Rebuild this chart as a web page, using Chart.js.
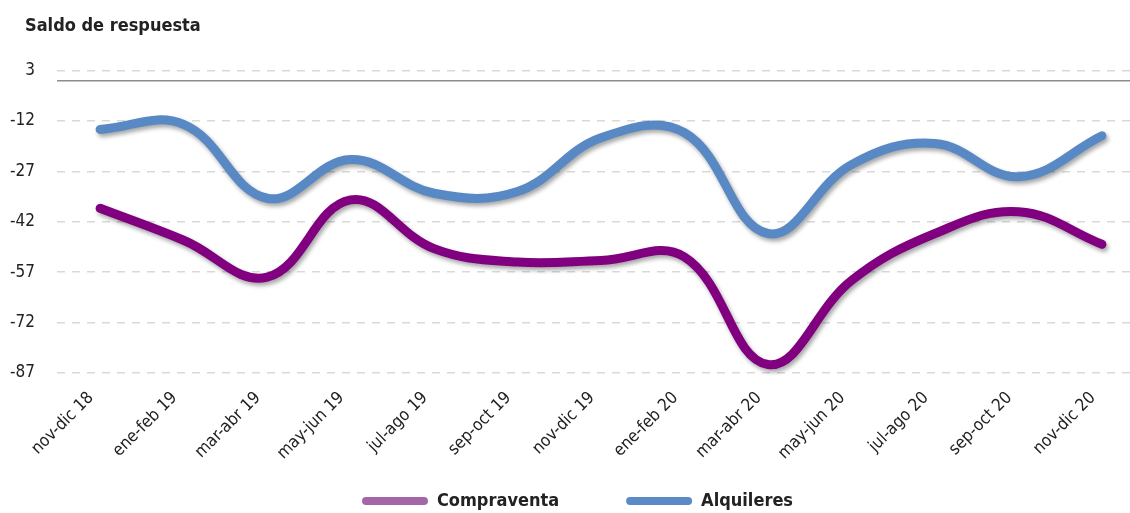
<!DOCTYPE html>
<html>
<head>
<meta charset="utf-8">
<script src="https://cdn.jsdelivr.net/npm/chart.js@4.4.1/dist/chart.umd.min.js"></script>
<style>
html,body{margin:0;padding:0;background:#fff;}
#wrap{width:1130px;height:513px;}
</style>
</head>
<body>
<div id="wrap"><canvas id="c"></canvas></div>
<script>
const categories = ["nov-dic 18","ene-feb 19","mar-abr 19","may-jun 19","jul-ago 19","sep-oct 19","nov-dic 19","ene-feb 20","mar-abr 20","may-jun 20","jul-ago 20","sep-oct 20","nov-dic 20"];
const compraventa = [-38, -47.5, -58.5, -35.5, -50, -54, -53.5, -52.5, -84.5, -59.5, -45.5, -39, -48.7];
const alquileres = [-14.5, -13, -35, -23.5, -33.5, -33, -17, -15.5, -45.5, -25, -18.7, -28.6, -16.4];
const yTicks = [3, -12, -27, -42, -57, -72, -87];
const seriesNames = ["Compraventa", "Alquileres"];

const FONT = "'Liberation Sans Narrow','DejaVu Sans Condensed','Roboto Condensed','Arial Narrow',sans-serif";

const toXY = arr => arr.map((v, i) => ({x: i, y: v}));

const shadowPlugin = {
  id: 'shadow',
  beforeDatasetDraw(chart) {
    const ctx = chart.ctx;
    ctx.save();
    ctx.shadowColor = 'rgba(0,0,0,0.35)';
    ctx.shadowBlur = 4;
    ctx.shadowOffsetX = 2;
    ctx.shadowOffsetY = 3;
  },
  afterDatasetDraw(chart) {
    chart.ctx.restore();
  }
};

const zeroLine = {
  id: 'zeroLine',
  beforeDatasetsDraw(chart) {
    const y = chart.scales.y.getPixelForValue(0);
    const ctx = chart.ctx;
    ctx.save();
    ctx.strokeStyle = '#8c8c8c';
    ctx.lineWidth = 1.5;
    ctx.beginPath();
    ctx.moveTo(chart.chartArea.left, y);
    ctx.lineTo(chart.chartArea.right, y);
    ctx.stroke();
    ctx.restore();
  }
};

new Chart(document.getElementById('c'), {
  type: 'line',
  data: {
    datasets: [
      {
        label: seriesNames[0],
        data: toXY(compraventa),
        borderColor: '#800080',
        backgroundColor: '#a566a7',
        borderWidth: 9,
        borderCapStyle: 'round',
        borderJoinStyle: 'round',
        pointRadius: 0,
        tension: 0.4,
        fill: false
      },
      {
        label: seriesNames[1],
        data: toXY(alquileres),
        borderColor: '#5889c4',
        backgroundColor: '#5b8ac6',
        borderWidth: 9,
        borderCapStyle: 'round',
        borderJoinStyle: 'round',
        pointRadius: 0,
        tension: 0.4,
        fill: false
      }
    ]
  },
  options: {
    responsive: true,
    maintainAspectRatio: false,
    animation: false,
    layout: {padding: {left: 25, right: 0, top: 4, bottom: -7}},
    scales: {
      x: {
        type: 'linear',
        min: -0.516,
        max: 12.336,
        afterBuildTicks: s => { s.ticks = categories.map((c, i) => ({value: i})); },
        afterFit: s => {
          s.height = 42; s.paddingLeft = 0; s.paddingRight = 0;
          s._computeLabelArea = () => null;
        },
        grid: {display: false, drawTicks: false},
        border: {display: false},
        ticks: {
          autoSkip: false,
          minRotation: 45,
          maxRotation: 45,
          padding: 5,
          labelOffset: -9,
          color: '#222',
          font: {family: FONT, size: 17},
          callback: v => categories[v]
        }
      },
      y: {
        min: -90,
        max: 3,
        afterBuildTicks: s => { s.ticks = yTicks.map(v => ({value: v})); },
        afterFit: s => { s.width = 32; s._computeLabelArea = () => null; },
        grid: {color: '#d9d9d9', lineWidth: 1.5, drawTicks: false},
        border: {display: false, dash: [8, 7]},
        ticks: {
          padding: 22,
          color: '#222',
          font: {family: FONT, size: 17},
          callback: v => String(v)
        }
      }
    },
    plugins: {
      title: {
        display: true,
        text: 'Saldo de respuesta',
        align: 'start',
        color: '#222',
        font: {family: FONT, size: 18, weight: 'bold'},
        padding: {top: 12, bottom: 33}
      },
      legend: {
        position: 'bottom',
        labels: {
          boxWidth: 66,
          boxHeight: 8,
          useBorderRadius: true,
          borderRadius: 4,
          padding: 67,
          color: '#222',
          font: {family: FONT, size: 18, weight: 'bold'},
          generateLabels: chart => chart.data.datasets.map((d, i) => ({
            text: d.label,
            fillStyle: d.backgroundColor,
            strokeStyle: d.backgroundColor,
            lineWidth: 0,
            datasetIndex: i,
            fontColor: '#222',
            borderRadius: 4
          }))
        }
      },
      tooltip: {enabled: false}
    }
  },
  plugins: [shadowPlugin, zeroLine]
});
</script>
</body>
</html>
